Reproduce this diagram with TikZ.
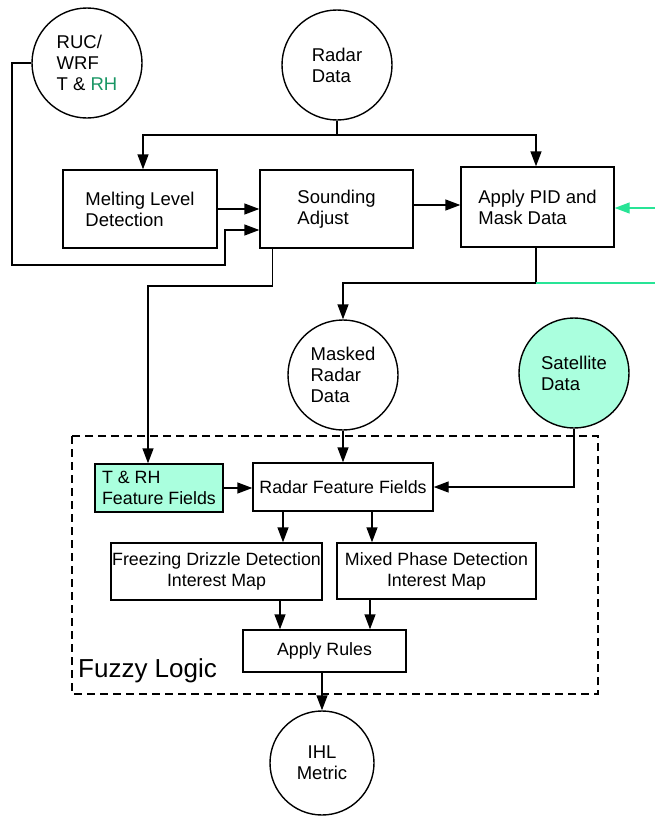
\documentclass[tikz,border=0pt]{standalone}
\usepackage{fontspec}
\setmainfont{Liberation Sans}
\usetikzlibrary{arrows.meta}
\definecolor{aqua}{RGB}{170,255,222}
\definecolor{lgreen}{RGB}{40,228,150}
\definecolor{rhgreen}{RGB}{25,150,100}
\tikzset{
  base/.style={line width=1.4pt},
  circ/.style={base,draw,circle,minimum size=110pt,inner sep=0pt,align=left,font=\fontsize{18.5}{21}\selectfont},
  box/.style={base,draw,rectangle,inner sep=0pt,align=left,font=\fontsize{18.5}{21}\selectfont},
  lbox/.style={base,draw,rectangle,inner sep=0pt,align=center,font=\fontsize{17.8}{21}\selectfont},
  arr/.style={base,-{Triangle[length=15pt,width=11pt]}},
  garr/.style={base,draw=lgreen,-{Triangle[length=15pt,width=11pt]},color=lgreen},
  conn/.style={base},
}
\begin{document}
\begin{tikzpicture}[x=1pt,y=1pt]
\useasboundingbox (0,0) rectangle (655,-819);
% nodes
\node[circ] (ruc) at (87,-63) {RUC/\\WRF\\T \& \textcolor{rhgreen}{RH}};
\node[circ] (radar) at (337,-65) {Radar\\Data};
\node[box, minimum width=154pt, minimum height=78pt] (melt) at (140,-209) {Melting Level\\Detection};
\node[box, minimum width=153pt, minimum height=78pt] (sound) at (336.5,-209) {Sounding\\Adjust};
\node[box, minimum width=153pt, minimum height=80pt] (pid) at (537.5,-207) {Apply PID and\\Mask Data};
\node[circ] (masked) at (343,-375) {Masked\\Radar\\Data};
\node[circ, fill=aqua] (sat) at (574,-373) {Satellite\\Data};
\node[lbox, align=left, fill=aqua, minimum width=128pt, minimum height=48pt] (trh) at (159,-488) {T \& RH\\Feature Fields};
\node[lbox, minimum width=180pt, minimum height=48pt] (rff) at (343,-487) {Radar Feature Fields};
\node[lbox, minimum width=211pt, minimum height=57pt] (frz) at (216.5,-571.5) {Freezing Drizzle Detection\\Interest Map};
\node[lbox, minimum width=199pt, minimum height=56pt] (mix) at (436.5,-571) {Mixed Phase Detection\\Interest Map};
\node[lbox, minimum width=163pt, minimum height=42pt] (rules) at (324.5,-651) {Apply Rules};
\node[circ, minimum size=104pt, align=center] (ihl) at (322,-763) {IHL\\Metric};
% fuzzy logic group
\draw[base, dashed, dash pattern=on 8pt off 5pt] (72,-436) rectangle (598,-694);
\node[anchor=base west, inner sep=0pt, font=\fontsize{26}{30}\selectfont] (fuzzy) at (78,-677) {Fuzzy Logic};
% connectors
\coordinate (j1) at (337,-135);
\draw[conn] (radar.south) -- (j1);
\draw[arr] (j1) -| ([xshift=3pt]melt.north);
\draw[arr] (j1) -| ([xshift=-1.5pt]pid.north);
\draw[arr] (melt.east) -- (melt.east -| sound.west);
\coordinate (r1) at (12,-63);
\coordinate (r2) at (12,-265);
\coordinate (r3) at (225,-265);
\coordinate (r4) at (225,-230);
\draw[arr] (ruc.west) -- (r1) -- (r2) -- (r3) -- (r4) -- (r4 -| sound.west);
\coordinate (s3) at ([yshift=4pt]sound.east);
\draw[arr] (s3) -- (s3 -| pid.west);
\coordinate (g1) at (655,-208);
\draw[garr] (g1) -- (g1 -| pid.east);
\coordinate (p1) at ([xshift=-1.5pt]pid.south);
\coordinate (p2) at (536,-283);
\coordinate (p3) at (343,-283);
\coordinate (g2) at (655,-283);
\draw[arr] (p1) -- (p2) -- (p3) -- (masked.north);
\draw[base, lgreen] (p2) -- (g2);
\coordinate (s1) at ([xshift=13pt]sound.south west);
\coordinate (s2) at (148,-286);
\draw[arr] (s1) |- (s2) -- (s2 |- trh.north);
\draw[arr] (masked.south) -- (rff.north);
\draw[arr] (trh.east) -- (trh.east -| rff.west);
\draw[arr] (sat.south) |- (rff.east);
\coordinate (f1) at ([xshift=-60pt]rff.south);
\coordinate (f2) at ([xshift=29pt]rff.south);
\draw[arr] (f1) -- (f1 |- frz.north);
\draw[arr] (f2) -- (f2 |- mix.north);
\coordinate (a1) at ([xshift=-44.5pt]rules.north);
\coordinate (a2) at ([xshift=45.5pt]rules.north);
\draw[arr] (a1 |- frz.south) -- (a1);
\draw[arr] (a2 |- mix.south) -- (a2);
\draw[arr] (rules.south -| ihl.north) -- (ihl.north);
\end{tikzpicture}
\end{document}
